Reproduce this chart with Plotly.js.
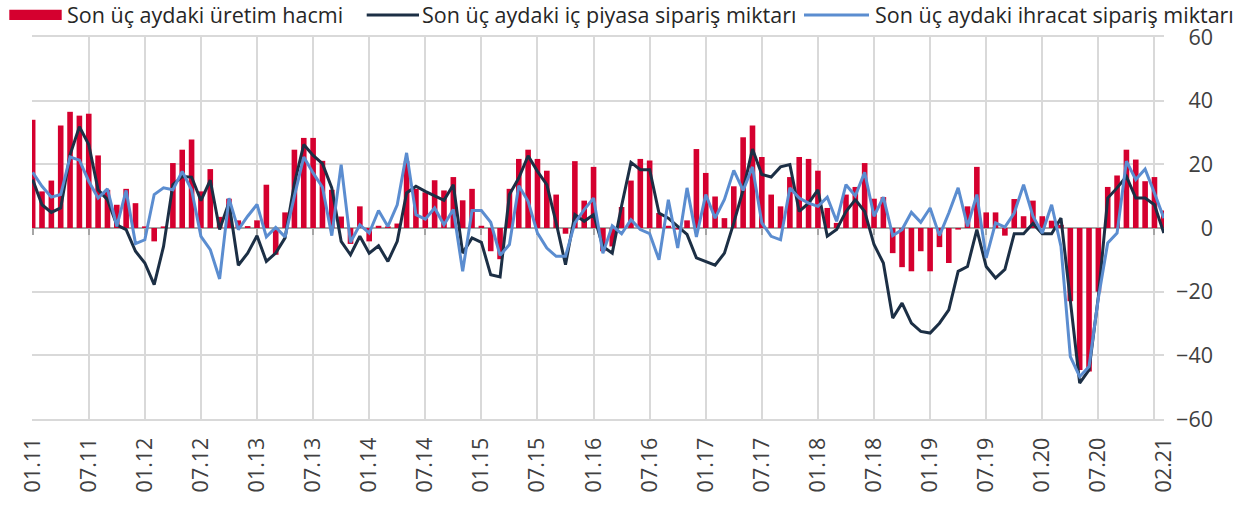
<!DOCTYPE html>
<html><head><meta charset="utf-8">
<script src="https://cdn.plot.ly/plotly-3.0.1.min.js"></script>
<style>html,body{margin:0;padding:0;background:#fff;} #chart{width:1246px;height:505px;}</style>
</head><body><div id="chart"></div>
<script>
const months = [
"01.11","02.11","03.11","04.11","05.11","06.11","07.11","08.11","09.11","10.11","11.11","12.11",
"01.12","02.12","03.12","04.12","05.12","06.12","07.12","08.12","09.12","10.12","11.12","12.12",
"01.13","02.13","03.13","04.13","05.13","06.13","07.13","08.13","09.13","10.13","11.13","12.13",
"01.14","02.14","03.14","04.14","05.14","06.14","07.14","08.14","09.14","10.14","11.14","12.14",
"01.15","02.15","03.15","04.15","05.15","06.15","07.15","08.15","09.15","10.15","11.15","12.15",
"01.16","02.16","03.16","04.16","05.16","06.16","07.16","08.16","09.16","10.16","11.16","12.16",
"01.17","02.17","03.17","04.17","05.17","06.17","07.17","08.17","09.17","10.17","11.17","12.17",
"01.18","02.18","03.18","04.18","05.18","06.18","07.18","08.18","09.18","10.18","11.18","12.18",
"01.19","02.19","03.19","04.19","05.19","06.19","07.19","08.19","09.19","10.19","11.19","12.19",
"01.20","02.20","03.20","04.20","05.20","06.20","07.20","08.20","09.20","10.20","11.20","12.20",
"01.21","02.21"];

const production = [
34.0,11.5,14.9,32.2,36.5,35.3,35.9,22.8,12.0,7.3,12.3,7.8,
0.5,-4.2,0.5,20.4,24.6,27.8,11.5,18.5,3.5,9.2,2.4,0.6,
2.4,13.6,-8.4,4.9,24.6,28.3,28.3,21.1,12.0,3.6,-5.0,6.8,
-4.2,0.7,0.5,1.4,21.0,12.3,11.2,15.0,11.8,16.0,8.7,12.3,
0.7,-7.3,-9.8,12.3,21.7,24.6,21.7,18.0,10.5,-1.8,21.0,8.6,
19.2,-7.3,-5.8,6.6,14.9,21.7,21.2,4.7,0.7,-0.5,2.4,24.8,
17.3,9.9,3.1,13.1,28.5,32.2,22.3,10.5,6.8,16.0,22.3,21.7,
18.0,6.3,1.6,10.5,12.9,20.4,9.2,9.7,-7.9,-12.3,-13.6,-7.3,
-13.6,-6.0,-11.0,-0.5,6.8,19.2,4.9,4.9,-2.4,9.1,3.7,8.6,
3.7,2.3,1.0,-23.0,-44.6,-45.1,-20.0,12.9,16.5,24.6,21.5,14.7,
16.0,5.5];

const domesticOrders = [
15.2,7.3,4.9,6.3,23.0,31.8,26.2,12.0,8.9,1.0,-0.5,-7.3,
-11.0,-17.8,-5.8,13.6,16.2,16.0,8.6,15.0,-0.5,8.0,-11.7,-7.9,
-2.4,-10.5,-7.9,-3.1,14.0,26.2,22.8,20.2,12.6,-4.2,-8.4,-2.6,
-7.9,-5.6,-10.5,-4.2,11.0,13.1,11.5,10.1,8.7,13.6,-7.9,-3.1,
-4.5,-14.7,-15.4,10.5,15.7,22.7,17.8,13.6,1.6,-11.5,4.2,2.1,
4.2,-5.8,-7.9,7.0,20.6,18.3,18.3,4.7,3.1,0.5,-2.0,-9.4,
-10.5,-11.7,-7.9,1.6,12.0,24.8,16.8,16.0,19.2,19.9,5.2,7.8,
12.0,-2.6,-0.5,5.2,8.9,5.2,-5.2,-11.0,-28.3,-23.6,-29.9,-32.5,
-33.0,-29.9,-25.7,-13.6,-12.1,-0.5,-12.1,-15.7,-13.0,-1.8,-1.8,1.4,
-1.8,-1.8,3.1,-22.0,-48.7,-44.6,-21.5,9.4,12.6,16.2,9.4,9.4,
7.3,-1.6];

const exportOrders = [
17.5,13.1,9.7,10.5,22.3,21.3,14.7,9.4,12.3,0.5,11.8,-4.9,
-3.7,10.5,12.6,12.0,17.8,12.0,-2.6,-6.8,-16.0,9.4,-0.5,3.7,
7.4,-2.8,0.2,-2.8,10.0,22.3,17.3,12.8,-2.4,19.9,-4.5,1.0,
-1.6,5.5,0.5,7.3,23.6,4.2,2.8,6.3,1.0,5.8,-13.6,5.5,
5.5,1.8,-8.6,-5.2,13.3,8.4,-1.6,-6.3,-8.9,-8.9,1.6,5.8,
9.4,-7.9,0.7,-1.8,2.6,-0.5,-1.8,-10.0,8.9,-6.3,12.6,-2.8,
10.5,3.1,9.0,18.1,11.8,19.2,1.6,-2.6,-3.7,12.6,9.4,7.8,
6.8,9.7,2.1,13.6,10.1,17.5,3.7,9.7,-2.4,-0.5,4.9,1.8,
6.3,-2.4,4.7,12.6,0.5,10.5,-9.4,1.6,0.3,4.7,13.6,3.7,
-1.6,7.3,-5.8,-40.4,-46.7,-43.5,-22.0,-4.7,-1.6,21.0,15.2,18.5,
11.0,3.1];

const tickLabels = ["01.11","07.11","01.12","07.12","01.13","07.13","01.14","07.14","01.15","07.15",
"01.16","07.16","01.17","07.17","01.18","07.18","01.19","07.19","01.20","07.20","02.21"];
const gridMonths = ["01.11","07.11","01.12","07.12","01.13","07.13","01.14","07.14","01.15","07.15",
"01.16","07.16","01.17","07.17","01.18","07.18","01.19","07.19","01.20","07.20","01.21"];
const yTicks = [-60,-40,-20,0,20,40,60];
const seriesNames = ["Son üç aydaki üretim hacmi","Son üç aydaki iç piyasa sipariş miktarı","Son üç aydaki ihracat sipariş miktarı"];

const RED = "#d5002f", DARK = "#1c2f45", BLUE = "#5b8dd0", GRID = "#d9d9d9", AXIS = "#a6a6a6";
const W = 1246, H = 505, ML = 32, MR = 20, MT = 37, MB = 86;
const plotRight = 1164;
const paperW = W - ML - MR, paperH = H - MT - MB;
const px = v => (v - ML) / paperW;
const py = v => (H - MB - v) / paperH;
const xRange = [-0.07, months.length - 1 + 0.02];
const xDom = [0, px(plotRight)];
const gridIdx = gridMonths.map(m => months.indexOf(m));

const traces = [
  {type: "scatter", mode: "none", x: [], y: [], xaxis: "x2", yaxis: "y", showlegend: false, hoverinfo: "skip"},
  {type: "bar", x: months, y: production, name: seriesNames[0], marker: {color: RED}, showlegend: false},
  {type: "scatter", mode: "lines", x: months, y: domesticOrders, name: seriesNames[1], line: {color: DARK, width: 3}, showlegend: false},
  {type: "scatter", mode: "lines", x: months, y: exportOrders, name: seriesNames[2], line: {color: BLUE, width: 3}, showlegend: false}
];

const FS = 21.5;
const legendFont = {family: "Open Sans", size: FS, color: "#262626"};
const LEG_Y = 14.5;
const layout = {
  width: W, height: H,
  margin: {l: ML, r: MR, t: MT, b: MB, pad: 0},
  paper_bgcolor: "#fff", plot_bgcolor: "#fff",
  font: {family: "Open Sans", size: FS, color: "#404040"},
  bargap: 0.4,
  showlegend: false,
  xaxis: {
    type: "category", domain: xDom, range: xRange, anchor: "y",
    tickmode: "array", tickvals: tickLabels, ticktext: tickLabels,
    tickangle: -90, showgrid: false, ticks: "", zeroline: false,
    showline: true, mirror: true, linecolor: GRID, linewidth: 2,
    ticklabelstandoff: 8, tickfont: {family: "Open Sans", size: FS, color: "#404040"}
  },
  xaxis2: {
    type: "linear", overlaying: "x", domain: xDom, range: xRange,
    anchor: "free", position: 0.5,
    tickmode: "array", tickvals: gridIdx, showticklabels: false,
    ticks: "outside", ticklen: 6, tickwidth: 2, tickcolor: AXIS,
    showline: true, linecolor: AXIS, linewidth: 2,
    showgrid: true, gridcolor: GRID, gridwidth: 2, zeroline: false,
    layer: "below traces"
  },
  yaxis: {
    range: [-60, 60], tickmode: "array", tickvals: yTicks,
    side: "left", anchor: "free", position: px(1213),
    showgrid: true, gridcolor: GRID, gridwidth: 2, zeroline: false,
    ticks: "", showline: false,
    tickfont: {family: "Open Sans", size: FS, color: "#404040"}
  },
  shapes: [
    {type: "rect", xref: "paper", yref: "paper", x0: px(9.3), x1: px(61.7), y0: py(20), y1: py(9.8), fillcolor: RED, line: {width: 0}},
    {type: "line", xref: "paper", yref: "paper", x0: px(366.7), x1: px(419), y0: py(15), y1: py(15), line: {color: DARK, width: 3}},
    {type: "line", xref: "paper", yref: "paper", x0: px(804), x1: px(869), y0: py(15), y1: py(15), line: {color: BLUE, width: 3}}
  ],
  annotations: [
    {xref: "paper", yref: "paper", x: px(65), y: py(LEG_Y), xanchor: "left", yanchor: "middle", text: seriesNames[0], showarrow: false, font: legendFont},
    {xref: "paper", yref: "paper", x: px(420), y: py(LEG_Y), xanchor: "left", yanchor: "middle", text: seriesNames[1], showarrow: false, font: legendFont},
    {xref: "paper", yref: "paper", x: px(872.5), y: py(LEG_Y), xanchor: "left", yanchor: "middle", text: seriesNames[2], showarrow: false, font: legendFont}
  ]
};

Plotly.newPlot("chart", traces, layout, {staticPlot: true, displayModeBar: false});
</script>
</body></html>
